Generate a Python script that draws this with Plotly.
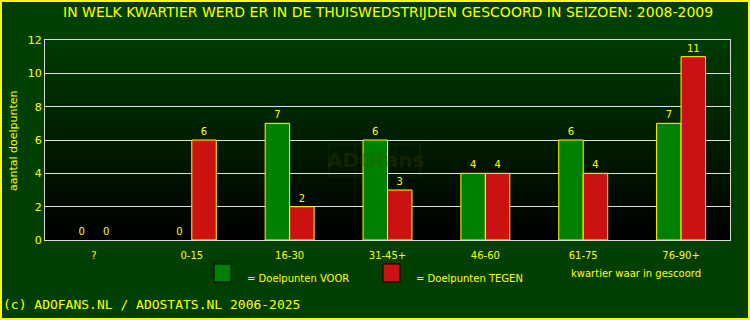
import plotly.graph_objects as go

categories = ["?", "0-15", "16-30", "31-45+", "46-60", "61-75", "76-90+"]
voor = [0, 0, 7, 6, 4, 6, 7]
tegen = [0, 6, 2, 3, 4, 4, 11]
y_ticks = [0, 2, 4, 6, 8, 10, 12]

title = "IN WELK KWARTIER WERD ER IN DE THUISWEDSTRIJDEN GESCOORD IN SEIZOEN: 2008-2009"
YEL = "#ffff00"
BG = "#003f00"

L, R, T, B = 45, 20, 40, 80
W, H = 750, 320
pw, ph = W - L - R, H - T - B

def px(x):
    return (x - L) / pw

def py(y):
    return (H - B - y) / ph

def lw(vals):
    return [0 if v == 0 else 1 for v in vals]

fig = go.Figure()
fig.add_trace(go.Bar(x=categories, y=voor, name="Doelpunten VOOR",
                     marker=dict(color="#008000", line=dict(color=YEL, width=lw(voor))),
                     text=voor, textposition="outside",
                     textfont=dict(color=YEL, size=10)))
fig.add_trace(go.Bar(x=categories, y=tegen, name="Doelpunten TEGEN",
                     marker=dict(color="#cc1111", line=dict(color=YEL, width=lw(tegen))),
                     text=tegen, textposition="outside",
                     textfont=dict(color=YEL, size=10)))

shapes = []
# gradient plot background
n = 50
for i in range(n):
    f = i / (n - 1)
    g = int(round(0x3a * f))
    shapes.append(dict(type="rect", xref="paper", yref="paper",
                       x0=0, x1=1, y0=i / n, y1=(i + 1) / n + 0.002,
                       fillcolor=f"rgb(0,{g},0)", line=dict(width=0), layer="below"))
# outer yellow border
shapes.append(dict(type="rect", xref="paper", yref="paper",
                   x0=px(1), x1=px(W - 1), y0=py(H - 1), y1=py(1),
                   line=dict(color=YEL, width=2), fillcolor="rgba(0,0,0,0)"))
# legend swatches
shapes.append(dict(type="rect", xref="paper", yref="paper",
                   x0=px(214), x1=px(231), y0=py(282), y1=py(264),
                   fillcolor="#008000", line=dict(color="#000000", width=1)))
shapes.append(dict(type="rect", xref="paper", yref="paper",
                   x0=px(383), x1=px(400), y0=py(282), y1=py(264),
                   fillcolor="#cc1111", line=dict(color="#000000", width=1)))
# watermark box
shapes.append(dict(type="rect", xref="paper", yref="paper",
                   x0=px(329), x1=px(420), y0=py(176), y1=py(144),
                   line=dict(color="rgba(70,70,0,0.3)", width=1), fillcolor="rgba(0,0,0,0)",
                   layer="below"))

ann = [
    dict(text=title, x=0.5, xref="paper", xanchor="center", y=py(12), yref="paper",
         yanchor="middle", showarrow=False, font=dict(color=YEL, size=14)),
    dict(text="= Doelpunten VOOR", x=px(245), xref="paper", xanchor="left",
         y=py(278), yref="paper", yanchor="middle", showarrow=False,
         font=dict(color=YEL, size=10)),
    dict(text="= Doelpunten TEGEN", x=px(414), xref="paper", xanchor="left",
         y=py(278), yref="paper", yanchor="middle", showarrow=False,
         font=dict(color=YEL, size=10)),
    dict(text="kwartier waar in gescoord", x=px(703), xref="paper", xanchor="right",
         y=py(273), yref="paper", yanchor="middle", showarrow=False,
         font=dict(color=YEL, size=10)),
    dict(text="(c) ADOFANS.NL / ADOSTATS.NL 2006-2025", x=px(1), xref="paper",
         xanchor="left", y=py(304), yref="paper", yanchor="middle", showarrow=False,
         font=dict(color=YEL, size=13, family="DejaVu Sans Mono")),
    dict(text="<b>ADOfans</b>", x=px(375), xref="paper", xanchor="center",
         y=py(160), yref="paper", yanchor="middle", showarrow=False,
         font=dict(color="rgba(70,70,0,0.3)", size=20)),
    dict(text="aantal doelpunten", x=px(13), xref="paper", xanchor="center",
         y=py(141), yref="paper", yanchor="middle", textangle=-90, showarrow=False,
         font=dict(color=YEL, size=11)),
]

fig.update_layout(
    width=W, height=H, margin=dict(l=L, r=R, t=T, b=B),
    paper_bgcolor=BG, plot_bgcolor="rgba(0,0,0,0)",
    font=dict(family="DejaVu Sans", color=YEL, size=10),
    barmode="group", bargap=0.5, bargroupgap=0,
    showlegend=False, shapes=shapes, annotations=ann,
)
fig.update_traces(cliponaxis=False)
fig.update_xaxes(showgrid=False, ticks="", tickfont=dict(color=YEL, size=10),
                 showline=True, linecolor="#d8d8d8", mirror=True, linewidth=1,
                 automargin=False, ticklabelstandoff=6)
fig.update_yaxes(range=[0, 12], tickvals=y_ticks, showgrid=True, gridcolor="#e0e0e0",
                 gridwidth=1, zeroline=False, ticks="", ticklen=0,
                 tickfont=dict(color=YEL, size=11),
                 showline=True, linecolor="#d8d8d8", mirror=True, linewidth=1,
                 automargin=False)

fig.write_html("out.html")
